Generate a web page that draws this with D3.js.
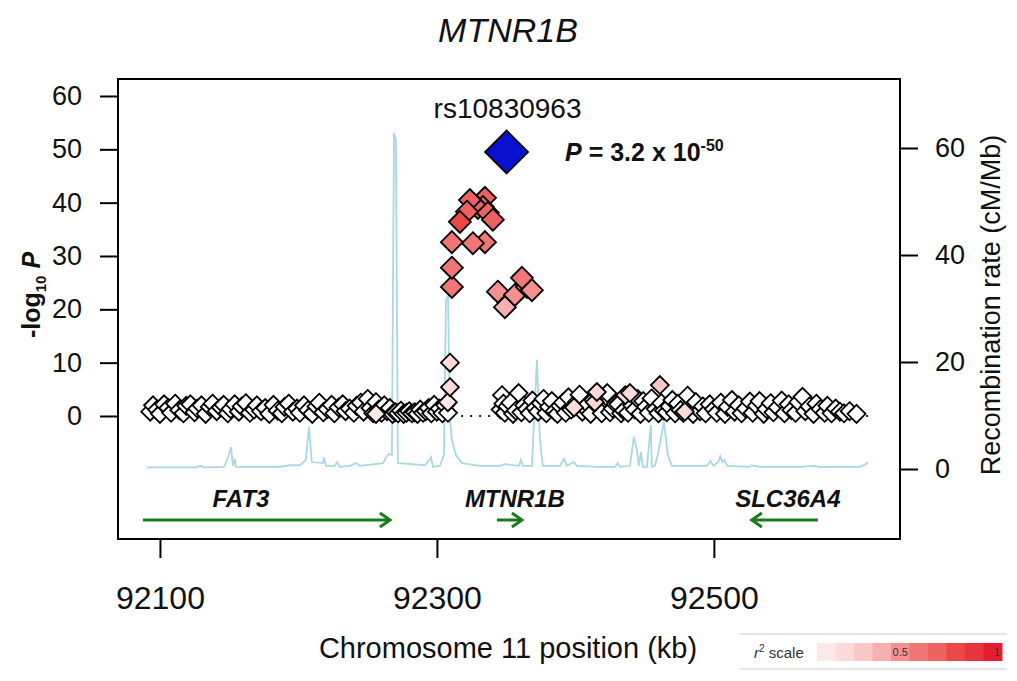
<!DOCTYPE html>
<html><head><meta charset="utf-8">
<script src="https://cdn.jsdelivr.net/npm/d3@7"></script>
<style>
html,body{margin:0;padding:0;background:#fff;}
text{font-family:"Liberation Sans",Arial,sans-serif;}
</style></head>
<body><svg id="chart" width="1017" height="681"></svg>
<script>
// ---------------- DATA ----------------
const xTicks = [92100, 92300, 92500];
const yTicksLeft = [0, 10, 20, 30, 40, 50, 60];
const yTicksRight = [0, 20, 40, 60];

// lead SNP: [position kb, -log10 P]
const leadSnp = {name: "rs10830963", pos: 92350.3, logp: 49.5};

// SNPs in LD: [position kb, -log10 P, r2]
const ldSnps = [
  [92323.8, 40.5, 0.62], [92334.7, 40.9, 0.6], [92321.7, 38.3, 0.64], [92333.2, 39.2, 0.6],
  [92336.8, 38.1, 0.61], [92340.4, 36.8, 0.62], [92316.6, 36.4, 0.72], [92329.6, 39.0, 0.6],
  [92310.8, 32.6, 0.56], [92326.0, 32.4, 0.53], [92334.7, 32.6, 0.5], [92310.8, 27.8, 0.56],
  [92310.8, 24.2, 0.55], [92344.0, 23.3, 0.44], [92361.4, 25.9, 0.5], [92365.0, 24.2, 0.48],
  [92368.6, 23.6, 0.49], [92356.3, 22.7, 0.44], [92349.1, 20.4, 0.36], [92309.4, 10.0, 0.13],
  [92309.4, 5.4, 0.11], [92307.9, 2.6, 0.06], [92415.5, 4.5, 0.16], [92414.0, 2.6, 0.12],
  [92439.4, 4.3, 0.14], [92461.0, 5.8, 0.2], [92436.0, 3.9, 0.11], [92479.0, 0.8, 0.1],
  [92399.0, 1.6, 0.1], [92256.0, 0.4, 0.08]
];

// other SNPs (r2 ~ 0): [position kb, -log10 P]
const bgSnps = [
  [92093,0.8],[92095,2.0],[92098,1.2],[92100,0.4],[92103,2.2],[92106,1.5],[92108,0.6],[92111,2.3],
  [92114,1.1],[92117,0.5],[92119,1.9],[92122,2.2],[92125,0.7],[92127,1.4],[92130,2.0],[92133,0.4],
  [92136,1.7],[92138,2.3],[92141,0.9],[92144,1.6],[92146,2.1],[92149,0.5],[92151,1.3],[92154,2.2],
  [92157,0.8],[92159,1.8],[92162,2.4],[92165,0.6],[92168,1.2],[92170,2.0],[92173,0.9],[92176,1.5],
  [92179,0.4],[92182,2.1],[92185,1.0],[92188,0.5],[92190,1.7],[92193,2.3],[92196,0.8],[92199,1.4],
  [92201,0.6],[92204,2.0],[92207,1.1],[92210,0.4],[92213,1.8],[92215,2.5],[92218,0.7],[92221,1.3],
  [92224,2.1],[92226,0.5],[92229,1.6],[92232,2.2],[92234,0.9],[92237,1.4],[92240,0.6],[92242,1.9],
  [92245,2.5],[92247,0.8],[92250,3.2],[92252,1.5],[92254,0.5],[92256,2.6],[92258,1.2],[92260,0.6],
  [92262,2.0],[92264,0.9],[92266,1.5],[92268,0.4],[92270,0.7],[92272,0.5],[92274,1.0],[92276,0.4],
  [92278,0.6],[92280,0.9],[92282,0.5],[92284,0.7],[92286,0.4],[92288,1.2],[92290,0.6],[92292,0.9],
  [92294,1.5],[92296,0.5],[92298,2.1],[92300,0.8],[92302,1.4],[92304,0.5],[92306,2.0],[92308,0.6],
  [92346,1.2],[92347,3.9],[92348,2.3],[92349,0.6],[92351,1.8],[92353,2.5],[92355,0.4],[92357,1.0],
  [92359,4.3],[92361,0.7],[92363,2.0],[92365,1.3],[92367,0.5],[92369,2.9],[92371,1.5],[92373,0.8],
  [92375,2.4],[92377,3.2],[92379,0.5],[92381,1.7],[92383,2.8],[92385,0.9],[92387,0.4],[92389,1.9],
  [92391,2.5],[92393,0.6],[92395,3.5],[92397,1.2],[92401,2.6],[92403,4.0],[92405,0.8],[92407,1.5],
  [92409,2.2],[92411,0.4],[92413,3.0],[92417,1.6],[92419,0.5],[92423,4.3],[92425,0.7],[92427,1.4],
  [92429,2.2],[92431,2.2],[92433,0.5],[92435,1.0],[92438,0.6],[92441,2.0],[92443,1.2],[92445,3.2],
  [92447,0.4],[92449,2.8],[92451,1.7],[92453,0.6],[92455,3.3],[92458,1.3],[92460,0.5],[92462,2.4],
  [92464,1.0],[92466,0.7],[92468,1.8],[92470,3.0],[92472,0.5],[92474,2.3],[92476,1.1],[92478,0.6],
  [92481,3.8],[92483,1.5],[92485,0.4],[92487,2.6],[92490,0.9],[92492,1.8],[92494,0.5],[92497,2.2],
  [92500,1.3],[92502,0.6],[92505,2.5],[92508,0.4],[92510,1.7],[92513,3.0],[92515,0.8],[92518,2.0],
  [92520,0.5],[92523,1.4],[92526,2.7],[92528,0.6],[92531,1.9],[92533,2.8],[92536,0.4],[92538,1.3],
  [92541,2.4],[92543,0.7],[92546,1.6],[92549,2.9],[92551,0.5],[92554,2.2],[92556,1.1],[92559,0.6],
  [92561,2.6],[92564,3.6],[92566,0.9],[92569,1.8],[92572,0.4],[92574,2.3],[92577,1.3],[92580,0.6],
  [92582,1.9],[92585,0.5],[92588,1.4],[92591,0.8],[92594,0.5],[92598,0.9],[92603,0.4]
];

// recombination rate: [position kb, cM/Mb]
const recomb = [
  [92090.6,0.3],[92126.0,0.3],[92128.9,0.6],[92131.8,0.3],[92146.2,0.4],[92149.1,2.1],[92151.3,4.1],
  [92152.7,0.6],[92154.2,1.9],[92154.9,0.4],[92186.6,0.4],[92193.9,0.7],[92201.1,0.7],[92205.4,1.7],
  [92207.6,7.9],[92209.7,1.3],[92217.7,1.1],[92218.4,2.1],[92219.9,0.6],[92226.4,0.6],[92227.8,1.3],
  [92230.0,0.4],[92237.2,0.6],[92241.5,1.1],[92244.4,0.6],[92261.0,1.1],[92263.2,2.1],[92265.3,2.8],
  [92267.5,2.6],[92269.0,62.8],[92270.4,61.5],[92271.8,1.1],[92282.0,0.9],[92291.3,0.7],[92295.0,1.9],
  [92295.7,2.2],[92297.1,0.4],[92302.2,0.6],[92305.1,2.6],[92306.5,31.6],[92308.0,32.3],[92309.4,9.2],
  [92310.8,5.4],[92313.7,2.6],[92318.0,1.1],[92331.0,0.6],[92345.5,0.6],[92349.1,0.9],[92359.2,0.6],
  [92360.6,1.7],[92362.0,0.6],[92368.6,0.6],[92372.2,20.4],[92374.4,5.4],[92376.5,0.6],[92388.8,0.6],
  [92391.7,1.9],[92393.9,0.6],[92398.9,1.3],[92401.1,0.6],[92417.7,0.4],[92428.5,0.4],[92430.7,1.1],
  [92432.1,0.4],[92439.4,0.6],[92442.2,6.0],[92444.4,3.6],[92445.8,0.6],[92447.3,3.2],[92448.7,0.4],
  [92451.6,0.4],[92454.5,8.2],[92455.2,0.4],[92457.4,0.6],[92459.5,2.6],[92463.9,8.8],[92466.8,2.6],
  [92469.7,0.6],[92489.9,0.6],[92495.0,0.6],[92497.5,1.5],[92499.6,0.6],[92503.2,1.3],[92504.7,2.4],
  [92506.1,1.3],[92507.5,1.7],[92509.7,0.6],[92526.0,0.4],[92527.4,0.7],[92533.0,0.4],[92562.0,0.4],
  [92573.0,0.6],[92576.0,0.4],[92605.4,0.4],[92609.7,0.9],[92611.2,1.3]
];

// genes: name, start, end, strand, label position (kb)
const genes = [
  {name: "FAT3", start: 92087.7, end: 92266.1, strand: "+", label: 92158.5},
  {name: "MTNR1B", start: 92343.3, end: 92361.4, strand: "+", label: 92356.3},
  {name: "SLC36A4", start: 92527.4, end: 92575.1, strand: "-", label: 92553.4}
];

// r2 legend colour bins
const r2Colors = ["#fde8e8","#fcdada","#fac6c6","#f7b0b0","#f49090","#f17676","#ee6262","#ea4848","#e73440","#e41e30"];
const r2Labels = [{bin: 4, text: "0.5"}, {bin: 9, text: "1"}];

// ---------------- DRAW ----------------
const svg = d3.select("#chart");
const box = {l: 118, t: 79, r: 900, b: 539};

const x = d3.scaleLinear().domain([92069.7, 92634.4]).range([box.l, box.r]);
const yL = d3.scaleLinear().domain([0, 60]).range([416, 96]);
const yR = d3.scaleLinear().domain([0, 60]).range([469, 148]);

function r2Color(r2) {
  if (r2 < 0.05) return "#ffffff";
  return r2Colors[Math.min(9, Math.floor(r2 * 10))];
}

// title
svg.append("text").attr("x", 508).attr("y", 42).attr("text-anchor", "middle")
  .attr("font-size", 34).attr("font-style", "italic").attr("fill", "#111").text("MTNR1B");

// recombination line
svg.append("path").datum(recomb)
  .attr("d", d3.line().x(d => x(d[0])).y(d => yR(d[1])))
  .attr("fill", "none").attr("stroke", "#a8d8e4").attr("stroke-width", 1.8);

// dotted zero line
svg.append("line").attr("x1", x(92090)).attr("x2", x(92614)).attr("y1", yL(0)).attr("y2", yL(0))
  .attr("stroke", "#222").attr("stroke-width", 2.2).attr("stroke-dasharray", "2,7");

const diamond = w => `M0,${-w}L${w},0L0,${w}L${-w},0Z`;

// background SNPs
svg.append("g").selectAll("path").data(bgSnps).join("path")
  .attr("d", diamond(9))
  .attr("transform", d => `translate(${x(d[0])},${yL(d[1])})`)
  .attr("fill", "#fff").attr("stroke", "#000").attr("stroke-width", 1.8);

// LD SNPs
svg.append("g").selectAll("path").data(ldSnps.slice().sort((a, b) => a[2] - b[2])).join("path")
  .attr("d", d => diamond(d[2] >= 0.3 ? 11 : 9))
  .attr("transform", d => `translate(${x(d[0])},${yL(d[1])})`)
  .attr("fill", d => r2Color(d[2])).attr("stroke", "#000").attr("stroke-width", 1.8);

// lead SNP
svg.append("path").attr("d", diamond(21.5))
  .attr("transform", `translate(${x(leadSnp.pos)},${yL(leadSnp.logp)})`)
  .attr("fill", "#0a10d0").attr("stroke", "#000").attr("stroke-width", 1.8);
svg.append("text").attr("x", x(leadSnp.pos) + 1).attr("y", 118).attr("text-anchor", "middle")
  .attr("font-size", 28).attr("fill", "#111").text(leadSnp.name);
const pt = svg.append("text").attr("x", 565).attr("y", 161).attr("font-size", 25)
  .attr("font-weight", "bold").attr("fill", "#111");
pt.append("tspan").attr("font-style", "italic").text("P");
pt.append("tspan").text(" = 3.2 x 10");
pt.append("tspan").attr("font-size", 16).attr("dy", -10).text("-50");

// box
svg.append("rect").attr("x", box.l).attr("y", box.t).attr("width", box.r - box.l).attr("height", box.b - box.t)
  .attr("fill", "none").attr("stroke", "#000").attr("stroke-width", 2);

// genes
const gG = svg.append("g");
genes.forEach(g => {
  const y0 = 520;
  const xs = x(g.strand === "+" ? g.start : g.end), xe = x(g.strand === "+" ? g.end : g.start);
  const dir = Math.sign(xe - xs);
  gG.append("line").attr("x1", xs).attr("x2", xe).attr("y1", y0).attr("y2", y0)
    .attr("stroke", "#1b7a1b").attr("stroke-width", 3);
  gG.append("path").attr("d", `M${xe - dir * 10},${y0 - 7}L${xe},${y0}L${xe - dir * 10},${y0 + 7}`)
    .attr("fill", "none").attr("stroke", "#1b7a1b").attr("stroke-width", 3);
  gG.append("text").attr("x", x(g.label)).attr("y", 507).attr("text-anchor", "middle")
    .attr("font-size", 24).attr("font-weight", "bold").attr("font-style", "italic").attr("fill", "#111")
    .text(g.name);
});

// axes
function styleAxis(g, fs) {
  g.select(".domain").remove();
  g.selectAll(".tick line").attr("stroke", "#000").attr("stroke-width", 2);
  g.selectAll(".tick text").attr("font-size", fs).attr("fill", "#111")
    .attr("font-family", "'Liberation Sans',Arial,sans-serif");
}
svg.append("g").attr("transform", `translate(${box.l},0)`)
  .call(d3.axisLeft(yL).tickValues(yTicksLeft).tickSize(18).tickPadding(18))
  .call(g => styleAxis(g, 27));
svg.append("g").attr("transform", `translate(${box.r},0)`)
  .call(d3.axisRight(yR).tickValues(yTicksRight).tickSize(18).tickPadding(17))
  .call(g => styleAxis(g, 27));
svg.append("g").attr("transform", `translate(0,${box.b})`)
  .call(d3.axisBottom(x).tickValues(xTicks).tickFormat(d3.format("d")).tickSize(19).tickPadding(28))
  .call(g => styleAxis(g, 32));

// axis titles
svg.append("text").attr("x", 508).attr("y", 658).attr("text-anchor", "middle")
  .attr("font-size", 29).attr("fill", "#111").text("Chromosome 11 position (kb)");
const yl = svg.append("text").attr("transform", "translate(40,295) rotate(-90)").attr("text-anchor", "middle")
  .attr("font-size", 25).attr("font-weight", "bold").attr("fill", "#111");
yl.append("tspan").text("-log");
yl.append("tspan").attr("font-size", 15).attr("dy", 6).text("10");
yl.append("tspan").attr("dy", -6).attr("font-style", "italic").text(" P");
svg.append("text").attr("transform", "translate(1000,305) rotate(-90)").attr("text-anchor", "middle")
  .attr("font-size", 27).attr("fill", "#111").text("Recombination rate (cM/Mb)");

// r2 legend
const lg = svg.append("g");
lg.append("line").attr("x1", 740).attr("x2", 1007).attr("y1", 634).attr("y2", 634).attr("stroke", "#ccc").attr("stroke-width", 1.2);
lg.append("line").attr("x1", 740).attr("x2", 1007).attr("y1", 669).attr("y2", 669).attr("stroke", "#ccc").attr("stroke-width", 1.2);
const lt = lg.append("text").attr("x", 754).attr("y", 658).attr("font-size", 15).attr("fill", "#333");
lt.append("tspan").attr("font-style", "italic").text("r");
lt.append("tspan").attr("font-size", 10).attr("dy", -6).text("2");
lt.append("tspan").attr("dy", 6).text(" scale");
const lx = d3.scaleBand().domain(d3.range(r2Colors.length)).range([817, 1002]);
lg.selectAll("rect").data(r2Colors).join("rect")
  .attr("x", (d, i) => lx(i)).attr("y", 643).attr("width", lx.bandwidth() + 0.5).attr("height", 18)
  .attr("fill", d => d);
lg.selectAll("text.lab").data(r2Labels).join("text").attr("class", "lab")
  .attr("x", d => lx(d.bin) + lx.bandwidth() / 2 + (d.bin === 9 ? 4 : 0)).attr("y", 656)
  .attr("text-anchor", "middle").attr("font-size", 11).attr("fill", "#333").text(d => d.text);
</script></body></html>
